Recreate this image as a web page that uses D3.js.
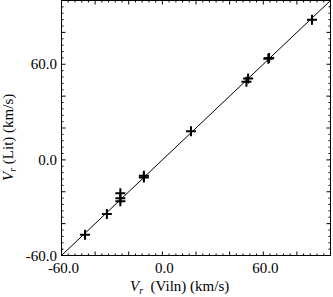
<!DOCTYPE html>
<html>
<head>
<meta charset="utf-8">
<script src="https://cdn.jsdelivr.net/npm/d3@7"></script>
</head>
<body style="margin:0">
<svg id="chart" width="333" height="297"></svg>
<script>
// velocities (km/s)
const vrViln = [-46, -33, -25, -25, -25, -11, -11, 17, 51, 50, 63.5, 63, 89];
const vrLit  = [-47, -34, -21, -24, -26, -10, -11, 18, 51, 49, 64, 63.5, 88];
const tickValues = [-60, 0, 60];
const domain = [-60, 100];
const fontFam = "Liberation Serif";

const svg = d3.select("#chart");
const x = d3.scaleLinear().domain(domain).range([61.5, 330.5]);
const y = d3.scaleLinear().domain(domain).range([255.5, 0.5]);

const major = d3.range(-60, 101, 20);
const minor = d3.range(-60, 101, 4).filter(v => (v + 60) % 20 !== 0);

// frame
svg.append("rect")
  .attr("x", x(domain[0])).attr("y", y(domain[1]))
  .attr("width", x(domain[1]) - x(domain[0]))
  .attr("height", y(domain[0]) - y(domain[1]))
  .attr("fill", "none").attr("stroke", "#000").attr("stroke-width", 1);

// inward ticks on all four sides
function ticks(vals, len) {
  vals.forEach(v => {
    svg.append("line").attr("x1", x(v)).attr("x2", x(v))
      .attr("y1", y(domain[0])).attr("y2", y(domain[0]) - len).attr("stroke", "#000");
    svg.append("line").attr("x1", x(v)).attr("x2", x(v))
      .attr("y1", y(domain[1])).attr("y2", y(domain[1]) + len).attr("stroke", "#000");
    svg.append("line").attr("y1", y(v)).attr("y2", y(v))
      .attr("x1", x(domain[0])).attr("x2", x(domain[0]) + len).attr("stroke", "#000");
    svg.append("line").attr("y1", y(v)).attr("y2", y(v))
      .attr("x1", x(domain[1])).attr("x2", x(domain[1]) - len).attr("stroke", "#000");
  });
}
ticks(major, 4);
ticks(minor, 2);

// tick labels
tickValues.forEach(v => {
  svg.append("text").attr("x", x(v) + 2).attr("y", 273)
    .attr("text-anchor", "middle").style("font-family", fontFam).attr("font-size", 15)
    .text(v.toFixed(1));
  svg.append("text").attr("x", 57).attr("y", y(v) + 5)
    .attr("text-anchor", "end").style("font-family", fontFam).attr("font-size", 15)
    .text(v.toFixed(1));
});

// one-to-one line
svg.append("line")
  .attr("x1", x(domain[0])).attr("y1", y(domain[0]))
  .attr("x2", x(domain[1])).attr("y2", y(domain[1]))
  .attr("stroke", "#000").attr("stroke-width", 1);

// plus markers
const s = 5;
vrViln.forEach((v, i) => {
  const cx = x(v), cy = y(vrLit[i]);
  svg.append("path")
    .attr("d", `M${cx - s},${cy}H${cx + s}M${cx},${cy - s}V${cy + s}`)
    .attr("stroke", "#000").attr("stroke-width", 2).attr("fill", "none");
});

// axis titles
const xt = svg.append("text").attr("x", 130).attr("y", 291)
  .style("font-family", fontFam).attr("font-size", 15);
xt.append("tspan").attr("font-style", "italic").text("V");
xt.append("tspan").attr("dy", 3).attr("font-size", 10).attr("font-style", "italic").text("r");
xt.append("tspan").attr("dy", -3).text("\u00a0 (Viln) (km/s)");

const yt = svg.append("text").attr("transform", "translate(13,181) rotate(-90)")
  .style("font-family", fontFam).attr("font-size", 15);
yt.append("tspan").attr("font-style", "italic").text("V");
yt.append("tspan").attr("dy", 3).attr("font-size", 10).attr("font-style", "italic").text("r");
yt.append("tspan").attr("dy", -3).text(" (Lit) (km/s)");
</script>
</body>
</html>
